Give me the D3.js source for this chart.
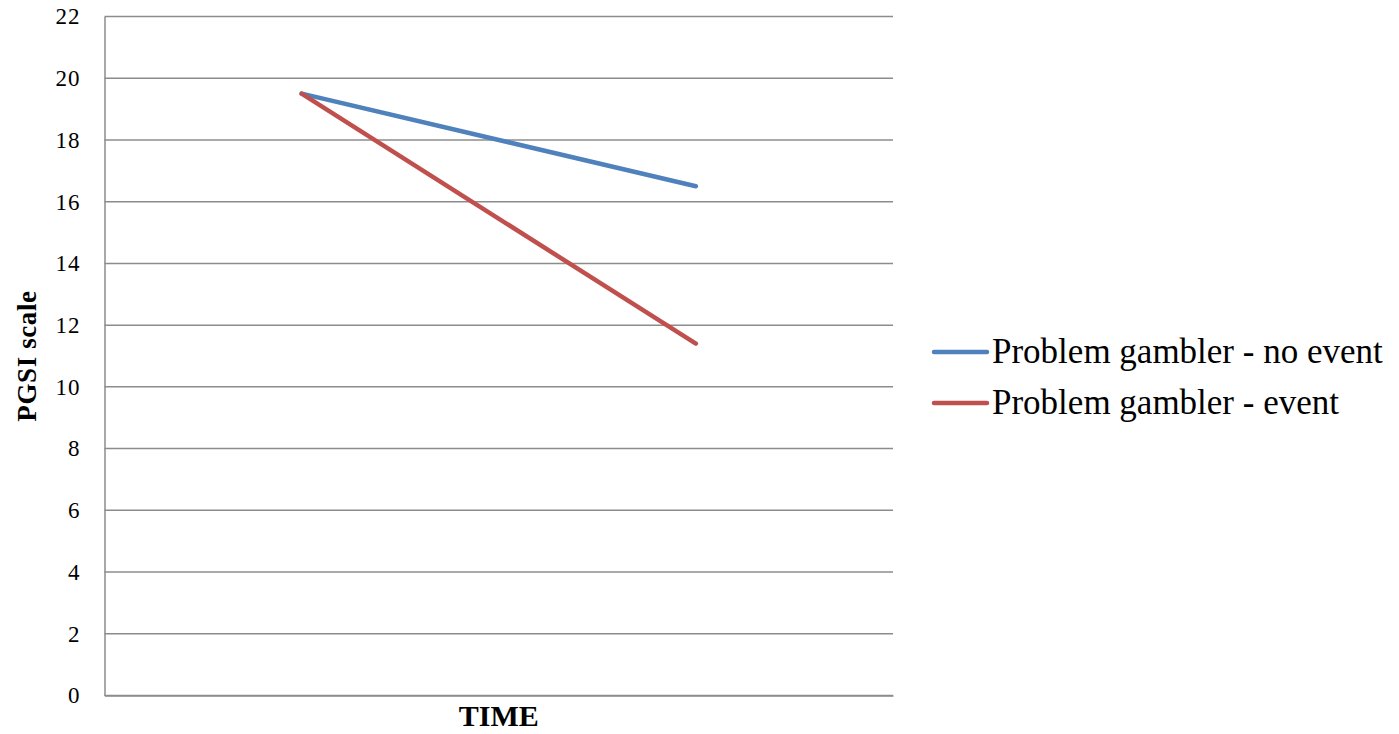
<!DOCTYPE html>
<html>
<head>
<meta charset="utf-8">
<script src="https://cdn.jsdelivr.net/npm/d3@7"></script>
<style>
  html, body { margin: 0; padding: 0; background: #fff; }
  svg { display: block; }
</style>
</head>
<body>
<div id="chart"></div>
<script>
const categories = ["", " "];
const seriesNames = ["Problem gambler - no event", "Problem gambler - event"];
const noEvent = [19.5, 16.5];
const event = [19.5, 11.4];
const yTicks = [0, 2, 4, 6, 8, 10, 12, 14, 16, 18, 20, 22];
const colors = ["#4F81BD", "#C0504D"];

const W = 1399, H = 734;
const m = { left: 104.5, right: 893, top: 16.5, bottom: 695.5 };

const svg = d3.select("#chart").append("svg").attr("width", W).attr("height", H);

const x = d3.scaleBand().domain(categories).range([m.left, m.right]);
const y = d3.scaleLinear().domain([0, 22]).range([m.bottom, m.top]);

// gridlines
svg.append("g").selectAll("line").data(yTicks).join("line")
  .attr("x1", m.left).attr("x2", m.right)
  .attr("y1", d => y(d)).attr("y2", d => y(d))
  .attr("stroke", "#8c8c8c").attr("stroke-width", 1.5);

// y axis
const yAxis = d3.axisLeft(y).tickValues(yTicks).tickSize(0).tickPadding(24);
const gy = svg.append("g").attr("transform", `translate(${m.left},0)`).call(yAxis);
gy.attr("font-family", "Liberation Serif").attr("font-size", 23);
gy.select(".domain").attr("stroke", "#8c8c8c").attr("stroke-width", 1.5);
gy.selectAll("text").style("font-family", "'Liberation Serif', serif")
  .style("font-size", "23px").style("letter-spacing", "1px").attr("fill", "#000");

// x axis
const xAxis = d3.axisBottom(x).tickSize(0).tickFormat(() => "");
const gx = svg.append("g").attr("transform", `translate(0,${m.bottom})`).call(xAxis);
gx.select(".domain").attr("stroke", "#8c8c8c").attr("stroke-width", 1.5);

// lines
const line = d3.line().x((d, i) => x(categories[i]) + x.bandwidth() / 2).y(d => y(d));
[noEvent, event].forEach((s, i) => {
  svg.append("path").datum(s).attr("d", line)
    .attr("fill", "none").attr("stroke", colors[i]).attr("stroke-width", 4.5)
    .attr("stroke-linecap", "round").attr("stroke-linejoin", "round");
});

// axis titles
svg.append("text").attr("x", (m.left + m.right) / 2).attr("y", 726)
  .attr("text-anchor", "middle").attr("font-family", "'Liberation Serif', serif")
  .attr("font-weight", "bold").attr("font-size", 30).text("TIME");
svg.append("text").attr("transform", `translate(36,${356}) rotate(-90)`)
  .attr("text-anchor", "middle").attr("font-family", "'Liberation Serif', serif")
  .attr("font-weight", "bold").attr("font-size", 27).attr("letter-spacing", 0.6).text("PGSI scale");

// legend
const lg = svg.append("g");
seriesNames.forEach((n, i) => {
  const yy = 352 + i * 51;
  lg.append("line").attr("x1", 934).attr("x2", 987).attr("y1", yy).attr("y2", yy)
    .attr("stroke", colors[i]).attr("stroke-width", 4.5).attr("stroke-linecap", "round");
  lg.append("text").attr("x", 992).attr("y", yy + 11)
    .attr("font-family", "'Liberation Serif', serif").attr("font-size", 35)
    .attr("fill", "#000").text(n);
});
</script>
</body>
</html>
